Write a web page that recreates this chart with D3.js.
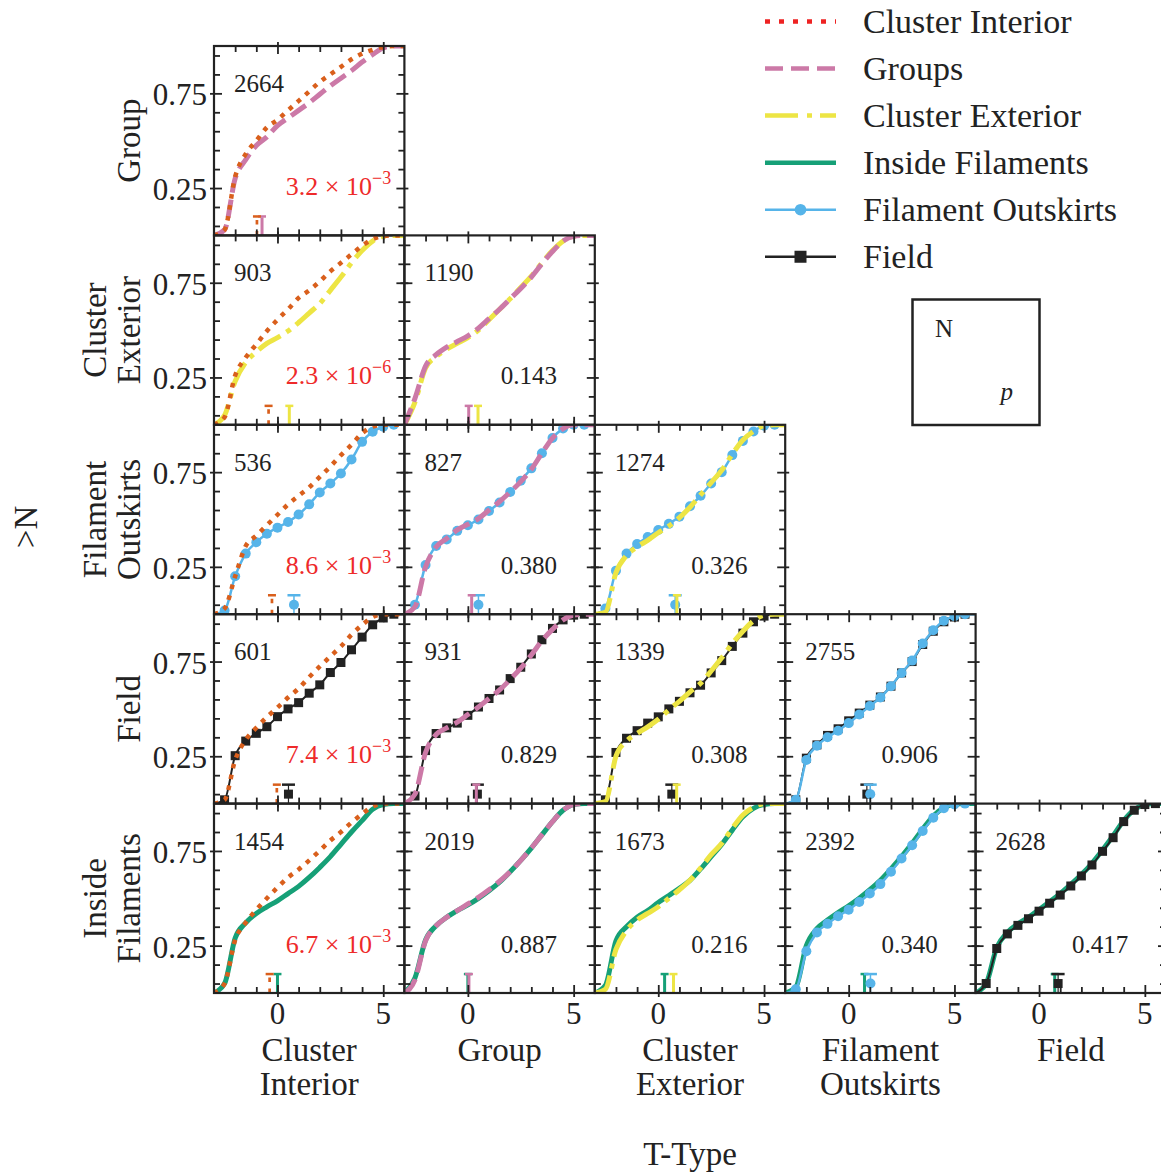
<!DOCTYPE html>
<html>
<head>
<meta charset="utf-8">
<script src="https://cdn.jsdelivr.net/npm/d3@7"></script>
<style>
body { margin: 0; background: #fff; }
text { font-family: "Liberation Serif", "DejaVu Serif", serif; fill: #222; }
</style>
</head>
<body>
<div id="chart"></div>
<script>
// T-type grid the cumulative curves are sampled on
var tGrid = [-3, -2.5, -2, -1.5, -1, -0.5, 0, 0.5, 1, 1.5, 2, 2.5, 3, 3.5, 4, 4.5, 5, 5.5, 6];

var envKeys = ["CI", "G", "CE", "IF", "FO", "F"];
var envNames = ["Cluster Interior", "Groups", "Cluster Exterior", "Inside Filaments", "Filament Outskirts", "Field"];

var rowKeys = ["G", "CE", "FO", "F", "IF"];
var colKeys = ["CI", "G", "CE", "FO", "F"];
var rowLabels = [["Group"], ["Cluster", "Exterior"], ["Filament", "Outskirts"], ["Field"], ["Inside", "Filaments"]];
var colLabels = [["Cluster", "Interior"], ["Group"], ["Cluster", "Exterior"], ["Filament", "Outskirts"], ["Field"]];

var nValues = [[2664], [903, 1190], [536, 827, 1274], [601, 931, 1339, 2755], [1454, 2019, 1673, 2392, 2628]];
var pValues = [[3.2e-3], [2.3e-6, 0.143], [8.6e-3, 0.380, 0.326], [7.4e-3, 0.829, 0.308, 0.906], [6.7e-3, 0.887, 0.216, 0.340, 0.417]];

// cumulative fractions, one list per panel: row environment / column environment
var rowCdf0 = [
    [0, 0.03, 0.30, 0.40, 0.475, 0.52, 0.58, 0.62, 0.66, 0.70, 0.745, 0.79, 0.83, 0.87, 0.915, 0.955, 0.99, 1, 1]
];
var colCdf0 = [
    [0, 0.03, 0.31, 0.43, 0.50, 0.57, 0.61, 0.66, 0.71, 0.76, 0.81, 0.85, 0.89, 0.93, 0.96, 0.98, 0.995, 1, 1]
];
var rowCdf1 = [
    [0, 0.05, 0.23, 0.33, 0.385, 0.43, 0.46, 0.495, 0.54, 0.59, 0.64, 0.71, 0.78, 0.855, 0.92, 0.97, 0.995, 1, 1],
    [0, 0.12, 0.30, 0.36, 0.40, 0.43, 0.46, 0.50, 0.555, 0.61, 0.665, 0.725, 0.785, 0.855, 0.92, 0.97, 0.995, 1, 1]
];
var colCdf1 = [
    [0, 0.04, 0.26, 0.355, 0.425, 0.495, 0.555, 0.61, 0.67, 0.71, 0.757, 0.81, 0.855, 0.90, 0.945, 0.98, 0.997, 1, 1],
    [0, 0.14, 0.31, 0.37, 0.41, 0.44, 0.47, 0.51, 0.56, 0.61, 0.665, 0.72, 0.78, 0.85, 0.915, 0.97, 0.995, 1, 1]
];
var rowCdf2 = [
    [0, 0.02, 0.20, 0.32, 0.38, 0.425, 0.457, 0.487, 0.526, 0.58, 0.643, 0.69, 0.743, 0.817, 0.91, 0.963, 0.99, 1, 1],
    [0, 0.05, 0.26, 0.36, 0.395, 0.44, 0.47, 0.50, 0.545, 0.59, 0.645, 0.705, 0.77, 0.85, 0.93, 0.98, 1, 1, 1],
    [0, 0.03, 0.23, 0.32, 0.37, 0.408, 0.445, 0.477, 0.515, 0.57, 0.625, 0.69, 0.75, 0.84, 0.915, 0.965, 0.995, 1, 1]
];
var colCdf2 = [
    [0, 0.03, 0.20, 0.36, 0.415, 0.47, 0.525, 0.58, 0.625, 0.67, 0.725, 0.78, 0.84, 0.895, 0.955, 0.99, 1, 1, 1],
    [0, 0.04, 0.25, 0.355, 0.40, 0.445, 0.475, 0.505, 0.55, 0.595, 0.645, 0.70, 0.765, 0.85, 0.93, 0.98, 1, 1, 1],
    [0, 0.01, 0.22, 0.31, 0.355, 0.39, 0.43, 0.465, 0.51, 0.565, 0.63, 0.695, 0.76, 0.845, 0.92, 0.965, 0.995, 1, 1]
];
var rowCdf3 = [
    [0, 0.02, 0.253, 0.33, 0.371, 0.406, 0.459, 0.50, 0.533, 0.583, 0.627, 0.692, 0.745, 0.812, 0.879, 0.944, 0.98, 1, 1],
    [0, 0.04, 0.28, 0.37, 0.40, 0.425, 0.466, 0.51, 0.555, 0.60, 0.66, 0.72, 0.79, 0.865, 0.925, 0.97, 0.995, 1, 1],
    [0, 0.02, 0.27, 0.345, 0.385, 0.425, 0.458, 0.50, 0.54, 0.585, 0.625, 0.69, 0.755, 0.83, 0.90, 0.96, 0.99, 1, 1],
    [0, 0.02, 0.24, 0.31, 0.36, 0.395, 0.437, 0.478, 0.52, 0.563, 0.62, 0.69, 0.75, 0.84, 0.91, 0.96, 0.985, 1, 1]
];
var colCdf3 = [
    [0, 0.02, 0.23, 0.337, 0.40, 0.457, 0.507, 0.56, 0.608, 0.668, 0.724, 0.777, 0.83, 0.892, 0.943, 0.985, 1, 1, 1],
    [0, 0.05, 0.27, 0.365, 0.40, 0.43, 0.47, 0.51, 0.555, 0.60, 0.655, 0.715, 0.785, 0.86, 0.92, 0.97, 0.995, 1, 1],
    [0, 0.01, 0.25, 0.33, 0.37, 0.405, 0.445, 0.495, 0.54, 0.59, 0.635, 0.70, 0.77, 0.845, 0.91, 0.965, 0.995, 1, 1],
    [0, 0.02, 0.23, 0.305, 0.35, 0.385, 0.425, 0.47, 0.515, 0.56, 0.62, 0.69, 0.755, 0.845, 0.915, 0.965, 0.99, 1, 1]
];
var rowCdf4 = [
    [0, 0.05, 0.29, 0.37, 0.42, 0.455, 0.487, 0.525, 0.563, 0.61, 0.663, 0.72, 0.785, 0.85, 0.91, 0.97, 0.995, 1, 1],
    [0, 0.08, 0.28, 0.355, 0.40, 0.435, 0.465, 0.50, 0.54, 0.585, 0.64, 0.70, 0.765, 0.835, 0.905, 0.965, 0.995, 1, 1],
    [0, 0.04, 0.275, 0.35, 0.40, 0.435, 0.478, 0.515, 0.553, 0.595, 0.655, 0.72, 0.785, 0.86, 0.93, 0.975, 0.995, 1, 1],
    [0, 0.03, 0.25, 0.34, 0.385, 0.425, 0.46, 0.50, 0.545, 0.595, 0.655, 0.72, 0.79, 0.865, 0.935, 0.978, 0.997, 1, 1],
    [0, 0.05, 0.24, 0.32, 0.365, 0.40, 0.44, 0.482, 0.525, 0.573, 0.625, 0.685, 0.755, 0.83, 0.91, 0.967, 0.995, 1, 1]
];
var colCdf4 = [
    [0, 0.05, 0.28, 0.372, 0.44, 0.50, 0.557, 0.61, 0.652, 0.70, 0.752, 0.805, 0.85, 0.90, 0.945, 0.985, 1, 1, 1],
    [0, 0.07, 0.275, 0.355, 0.40, 0.435, 0.47, 0.505, 0.545, 0.59, 0.64, 0.70, 0.765, 0.835, 0.905, 0.965, 0.995, 1, 1],
    [0, 0.02, 0.23, 0.33, 0.385, 0.42, 0.455, 0.50, 0.545, 0.595, 0.66, 0.73, 0.79, 0.87, 0.94, 0.98, 1, 1, 1],
    [0, 0.02, 0.22, 0.32, 0.365, 0.405, 0.44, 0.48, 0.525, 0.575, 0.64, 0.71, 0.78, 0.855, 0.925, 0.975, 0.995, 1, 1],
    [0, 0.05, 0.235, 0.312, 0.357, 0.392, 0.432, 0.474, 0.517, 0.565, 0.618, 0.676, 0.748, 0.82, 0.905, 0.965, 0.995, 1, 1]
];

// mean T-type markers at the foot of each panel
var rowMeans = [[-0.73], [0.56, 0.48], [0.78, 0.5, 0.8], [0.52, 0.45, 0.64, 0.86], [0.0, 0.0, 0.3, 0.75, 0.74]];
var colMeans = [[-0.97], [-0.42, 0.04], [-0.26, 0.18, 0.88], [-0.03, 0.4, 0.87, 1.02], [-0.37, 0.05, 0.72, 1.03, 0.9]];

var xMajor = [0, 5], xMinor = [-2, -1, 1, 2, 3, 4];
var yMajor = [0.25, 0.75], yMinor = [0.05, 0.15, 0.35, 0.45, 0.55, 0.65, 0.85, 0.95];

var rowCdf = [rowCdf0, rowCdf1, rowCdf2, rowCdf3, rowCdf4];
var colCdf = [colCdf0, colCdf1, colCdf2, colCdf3, colCdf4];

// styles
var envColors = ["#d95f1c", "#cc79a7", "#ede544", "#16a077", "#56b4e9", "#222222"];
var legendColors = ["#ee2222", "#cc79a7", "#ede544", "#16a077", "#56b4e9", "#222222"];
var envDash = ["4.5,6.5", "18,7", "26,7,5,7", null, null, null];
var envWidth = [4.5, 5, 5, 5, 2.5, 2];
var envMarker = [null, null, null, null, "circle", "square"];

var W = 1161, H = 1172,
    gridLeft = 214, gridTop = 46,
    pw = 190.4, ph = 189.4;

var svg = d3.select("#chart").append("svg")
    .attr("width", W)
    .attr("height", H)
    .style("background", "#fff");

var x = d3.scaleLinear().domain([-3, 6]).range([0, pw]);
var y = d3.scaleLinear().domain([0, 1]).range([ph, 0]);

var line = d3.line()
    .x(function(d) { return x(d[0]); })
    .y(function(d) { return y(d[1]); })
    .curve(d3.curveMonotoneX);

function strokeStyle(sel, i, scale) {
    sel.attr("fill", "none")
        .attr("stroke", envColors[i])
        .attr("stroke-width", envWidth[i] * scale)
        .attr("stroke-dasharray", envDash[i]);
}

function drawMarker(g, i, cx, cy, r) {
    if (envMarker[i] == "circle") {
        g.append("circle").attr("cx", cx).attr("cy", cy).attr("r", r)
            .attr("fill", envColors[i]);
    } else if (envMarker[i] == "square") {
        g.append("rect").attr("x", cx - r).attr("y", cy - r)
            .attr("width", 2 * r).attr("height", 2 * r)
            .attr("fill", envColors[i]);
    }
}

function drawSeries(g, key, vals, clipId) {
    var i = envKeys.indexOf(key);
    var pts = tGrid.map(function(t, j) { return [t, vals[j]]; });
    var sg = g.append("g").attr("clip-path", "url(#" + clipId + ")");
    sg.append("path").attr("d", line(pts)).call(strokeStyle, i, 1);
    if (envMarker[i]) {
        pts.filter(function(d) { return d[0] > -3 && d[0] < 6; })
            .forEach(function(d) {
                drawMarker(sg, i, x(d[0]), y(d[1]), envMarker[i] == "circle" ? 5 : 4.5);
            });
    }
}

function drawMean(g, key, m) {
    var i = envKeys.indexOf(key);
    var cap = envMarker[i] ? 6.5 : 4;
    var eg = g.append("g");
    eg.append("line")
        .attr("x1", x(m)).attr("x2", x(m))
        .attr("y1", y(0)).attr("y2", y(0.1))
        .call(strokeStyle, i, 0.6);
    eg.append("line")
        .attr("x1", x(m) - cap).attr("x2", x(m) + cap)
        .attr("y1", y(0.1)).attr("y2", y(0.1))
        .attr("stroke", envColors[i])
        .attr("stroke-width", 2.5);
    if (envMarker[i]) {
        drawMarker(eg, i, x(m), y(0.05), envMarker[i] == "circle" ? 5 : 4.5);
    }
}

// ticks on one side: outward part from the axis, inward part set afterwards
function drawTicks(g, side, values, outLen, inLen) {
    var axisFn = {bottom: d3.axisBottom, top: d3.axisTop, left: d3.axisLeft, right: d3.axisRight}[side];
    var scale = (side == "bottom" || side == "top") ? x : y;
    var ax = g.append("g")
        .attr("transform", side == "bottom" ? "translate(0," + ph + ")" :
            side == "right" ? "translate(" + pw + ",0)" : null)
        .call(axisFn(scale).tickValues(values).tickSize(outLen).tickFormat(""));
    ax.select(".domain").remove();
    var ticks = ax.selectAll(".tick line").attr("stroke", "#222").attr("stroke-width", 1.8);
    if (side == "bottom") ticks.attr("y1", -inLen);
    if (side == "top") ticks.attr("y1", inLen);
    if (side == "left") ticks.attr("x1", inLen);
    if (side == "right") ticks.attr("x1", -inLen);
}

function addPValue(g, p) {
    var t = g.append("text")
        .attr("x", 124.5)
        .attr("y", 149)
        .attr("text-anchor", "middle")
        .style("font-size", "25px");
    if (p < 0.05) {
        var e = Math.floor(Math.log10(p));
        var mant = (p / Math.pow(10, e)).toFixed(1);
        t.style("fill", "#ee2a2a").style("font-size", "26px");
        t.append("tspan").text(mant + " \u00d7 10");
        t.append("tspan")
            .attr("dy", -11)
            .style("font-size", "18px")
            .style("fill", "#ee2a2a")
            .text("\u2212" + (-e));
    } else {
        t.text(p.toFixed(3));
    }
}

for (var r = 0; r < rowKeys.length; r++) {
    for (var c = 0; c <= r; c++) {
        var g = svg.append("g")
            .attr("transform", "translate(" + (gridLeft + c * pw) + "," + (gridTop + r * ph) + ")");
        var clipId = "clip-" + r + "-" + c;
        g.append("clipPath").attr("id", clipId)
            .append("rect").attr("width", pw).attr("height", ph);

        // row environment underneath, column environment on top
        drawSeries(g, rowKeys[r], rowCdf[r][c], clipId);
        drawSeries(g, colKeys[c], colCdf[r][c], clipId);
        drawMean(g, rowKeys[r], rowMeans[r][c]);
        drawMean(g, colKeys[c], colMeans[r][c]);

        ["bottom", "top"].forEach(function(s) {
            drawTicks(g, s, xMinor, 0, 6);
            drawTicks(g, s, xMajor, 4, 8);
        });
        ["left", "right"].forEach(function(s) {
            drawTicks(g, s, yMinor, 0, 6);
            drawTicks(g, s, yMajor, 4, 8);
        });

        g.append("rect")
            .attr("width", pw).attr("height", ph)
            .attr("fill", "none")
            .attr("stroke", "#222")
            .attr("stroke-width", 2.2);

        g.append("text")
            .attr("x", 20).attr("y", 46)
            .style("font-size", "25px")
            .text(nValues[r][c]);
        addPValue(g, pValues[r][c]);

        if (c == 0) {
            g.selectAll(".ylab").data(yMajor).enter().append("text")
                .attr("x", -7)
                .attr("y", function(d) { return y(d) + 12; })
                .attr("text-anchor", "end")
                .style("font-size", "31px")
                .text(function(d) { return d3.format(".2f")(d); });
        }
        if (r == rowKeys.length - 1) {
            g.selectAll(".xlab").data(xMajor).enter().append("text")
                .attr("x", function(d) { return x(d); })
                .attr("y", ph + 31)
                .attr("text-anchor", "middle")
                .style("font-size", "31px")
                .text(function(d) { return d; });
        }
    }
}

// row labels (rotated) and column labels
rowLabels.forEach(function(lines, r) {
    var cy = gridTop + r * ph + ph / 2;
    lines.forEach(function(s, k) {
        var bx = 140 - (lines.length - 1 - k) * 34;
        svg.append("text")
            .attr("transform", "translate(" + bx + "," + cy + ") rotate(-90)")
            .attr("text-anchor", "middle")
            .style("font-size", "33px")
            .text(s);
    });
});

colLabels.forEach(function(lines, c) {
    var cx = gridLeft + c * pw + pw / 2;
    lines.forEach(function(s, k) {
        svg.append("text")
            .attr("x", cx)
            .attr("y", 1061 + k * 34)
            .attr("text-anchor", "middle")
            .style("font-size", "33px")
            .text(s);
    });
});

svg.append("text")
    .attr("x", 690).attr("y", 1165)
    .attr("text-anchor", "middle")
    .style("font-size", "33px")
    .text("T-Type");

svg.append("text")
    .attr("transform", "translate(37,527) rotate(-90)")
    .attr("text-anchor", "middle")
    .style("font-size", "33px")
    .text(">N");

// legend
var legend = svg.append("g").attr("transform", "translate(765,21.5)");
var legendEnts = legend.selectAll("g")
    .data(envNames)
    .enter()
    .append("g")
        .attr("transform", function(d, i) {
            return "translate(0," + (47.05 * i) + ")";
        });

legendEnts.each(function(d, i) {
    var e = d3.select(this);
    e.append("line")
        .attr("x1", 0).attr("x2", 71)
        .attr("stroke", legendColors[i])
        .attr("stroke-width", envMarker[i] ? 2.5 : 4.5)
        .attr("stroke-dasharray", i == 0 ? "5,9" : i == 1 ? "18,8" : i == 2 ? "33,9,5,8" : null);
    if (envMarker[i] == "circle") {
        e.append("circle").attr("cx", 35.5).attr("r", 5.8).attr("fill", legendColors[i]);
    } else if (envMarker[i] == "square") {
        e.append("rect").attr("x", 29.5).attr("y", -6).attr("width", 12).attr("height", 12)
            .attr("fill", legendColors[i]);
    }
    e.append("text")
        .attr("x", 98).attr("y", 11)
        .style("font-size", "34px")
        .text(d);
});

// key panel
var key = svg.append("g").attr("transform", "translate(912.5,299.5)");
key.append("rect")
    .attr("width", 127).attr("height", 125.5)
    .attr("fill", "none")
    .attr("stroke", "#222")
    .attr("stroke-width", 2.5);
key.append("text")
    .attr("x", 22.5).attr("y", 37)
    .style("font-size", "25px")
    .text("N");
key.append("text")
    .attr("x", 88).attr("y", 100)
    .style("font-size", "25px")
    .style("font-style", "italic")
    .text("p");
</script>
</body>
</html>
